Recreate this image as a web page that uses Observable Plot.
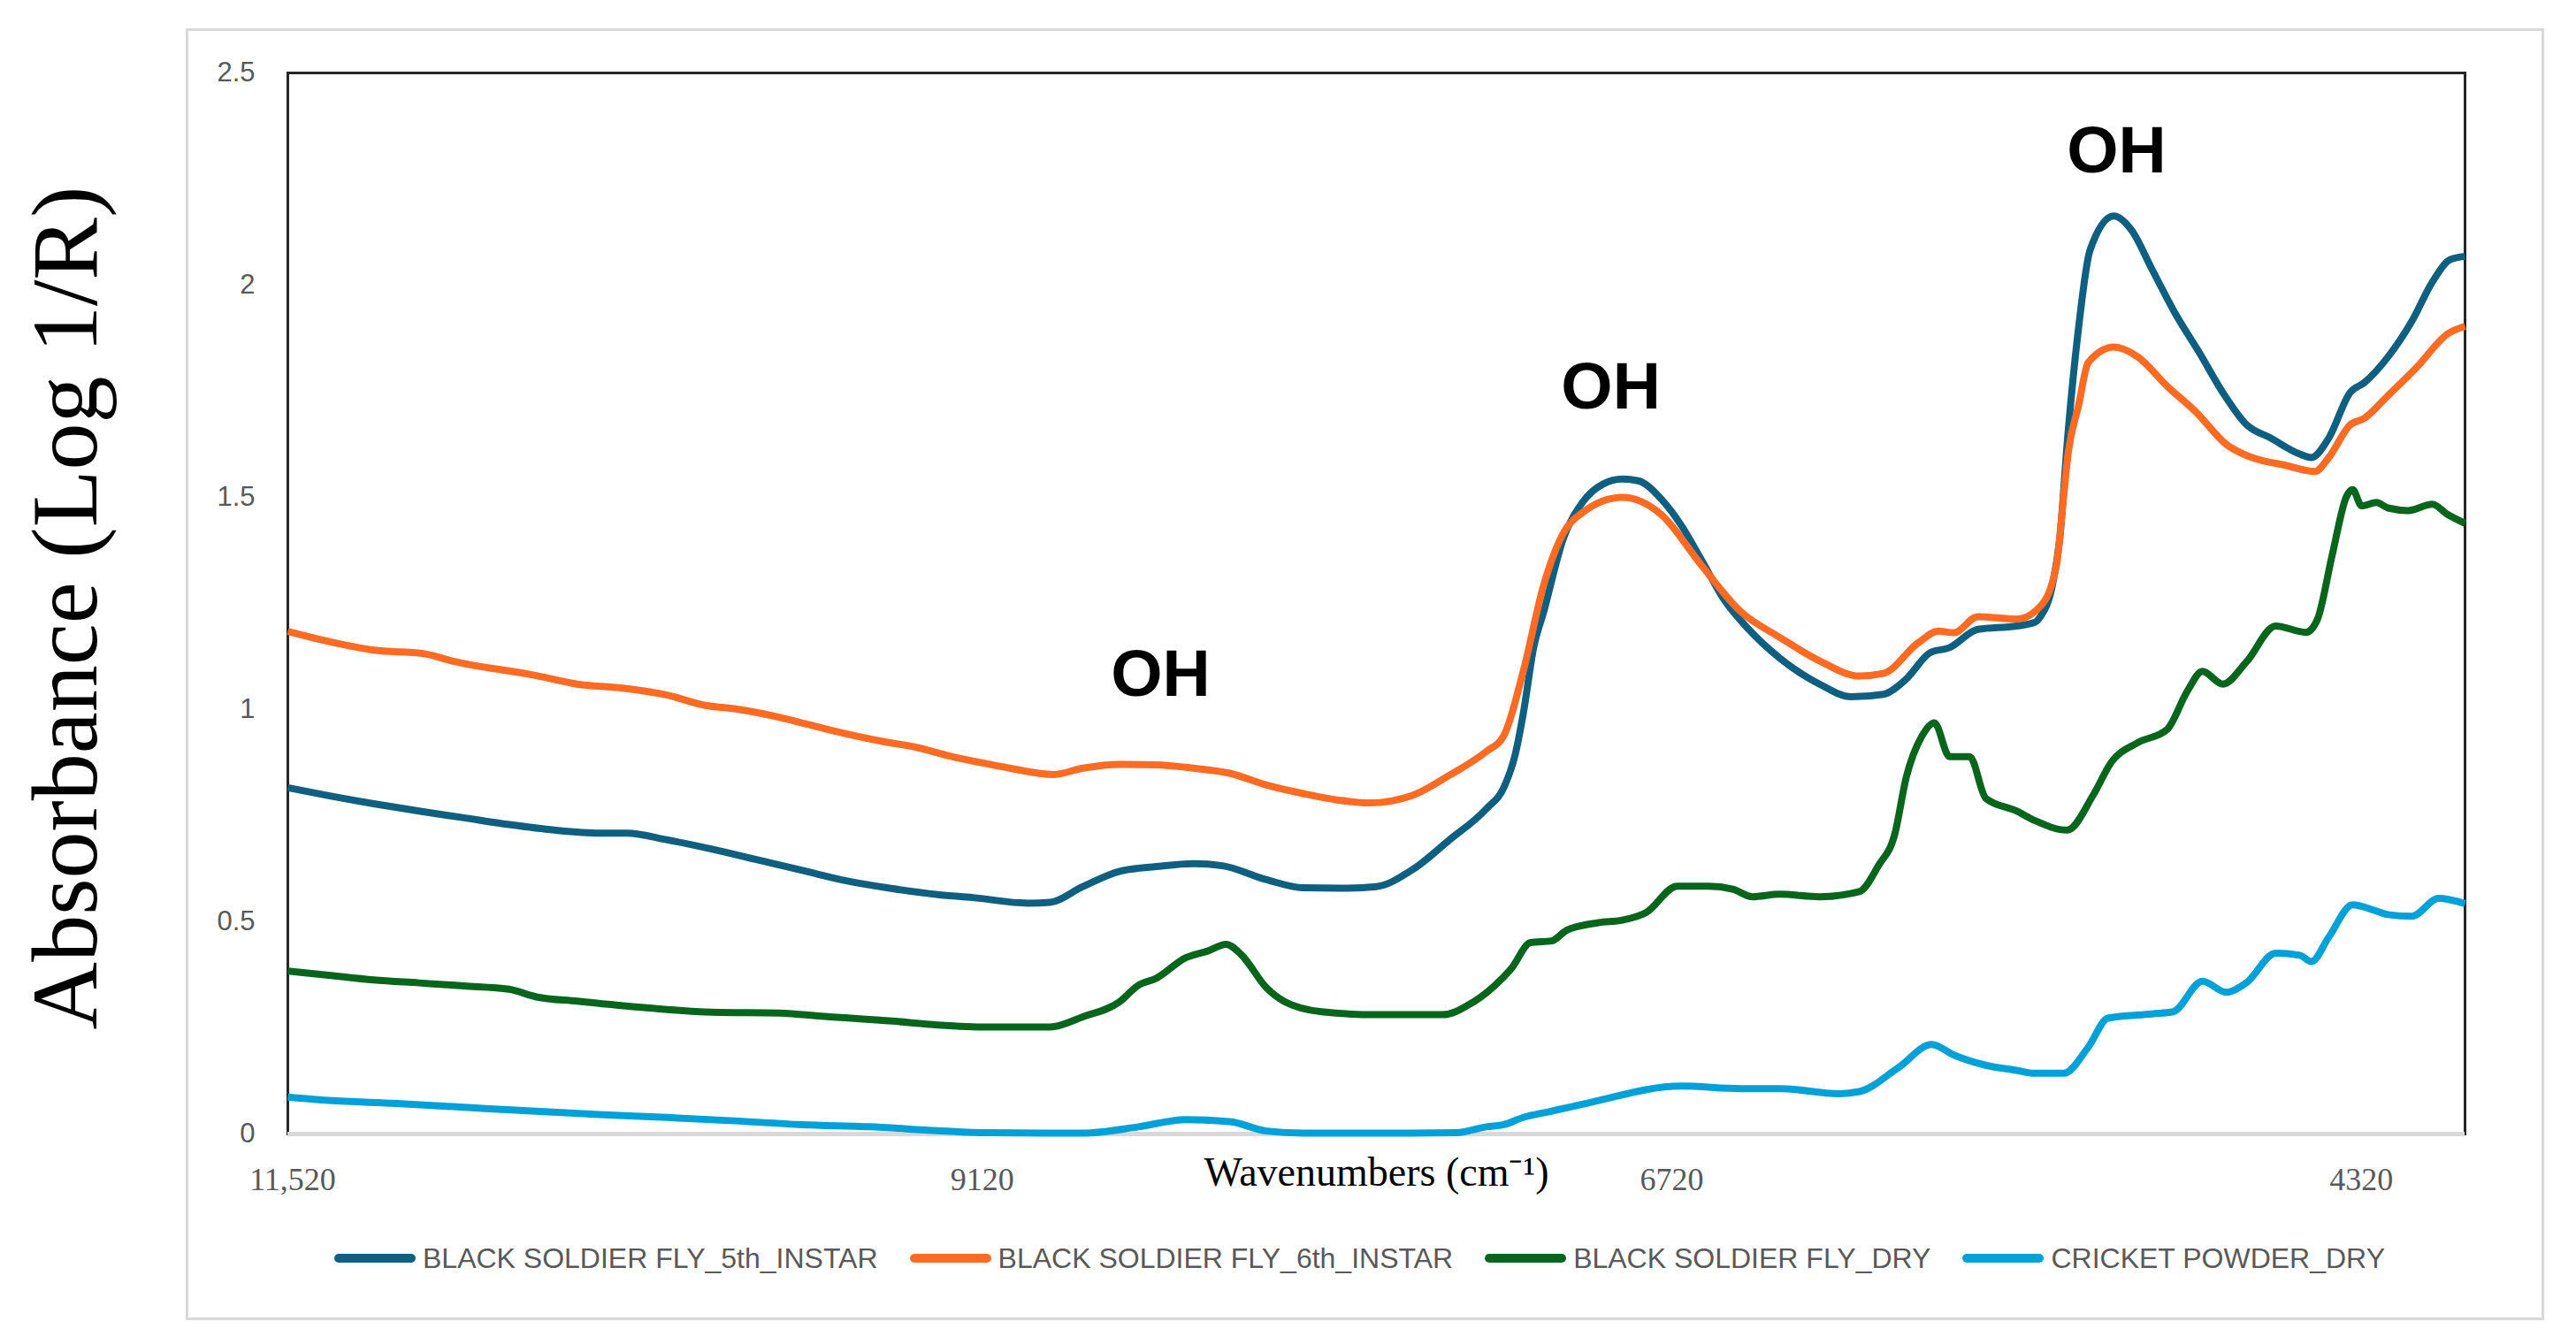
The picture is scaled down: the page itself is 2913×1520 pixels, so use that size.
<!DOCTYPE html>
<html>
<head>
<meta charset="utf-8">
<script src="https://cdn.jsdelivr.net/npm/d3@7"></script>
<script src="https://cdn.jsdelivr.net/npm/@observablehq/plot@0.6"></script>
<style>
  html, body { margin: 0; padding: 0; background: #ffffff; }
  #wrap { position: relative; width: 2913px; height: 1520px; overflow: hidden; background: #ffffff; }
  #box { position: absolute; left: 210px; top: 32px; width: 2661px; height: 1455px; border: 3px solid #d9d9d9; }
  #chart { position: absolute; left: 0; top: 0; }
  #legend { position: absolute; left: 378px; top: 1400px; height: 46px; display: flex; align-items: center;
            font-family: "Liberation Sans", Arial, sans-serif; font-size: 32px; color: #595959; white-space: nowrap; }
  .item { display: flex; align-items: center; margin-right: 36px; }
  .sw { display: inline-block; width: 92px; height: 10px; border-radius: 5px; margin-right: 8px; }
</style>
</head>
<body>
<div id="wrap">
  <div id="box"></div>
  <div id="chart"></div>
  <div id="legend"></div>
</div>
<script>
// ---- data (wavenumber cm-1, absorbance log 1/R) ----
const seriesNames = [
  "BLACK SOLDIER FLY_5th_INSTAR",
  "BLACK SOLDIER FLY_6th_INSTAR",
  "BLACK SOLDIER FLY_DRY",
  "CRICKET POWDER_DRY"
];
const seriesColors = ["#0f5f80", "#ff6b22", "#07661c", "#00a1d9"];

const bsf5th = [
  [11537,0.816],[11395,0.797],[11238,0.778],[11081,0.761],[10924,0.745],[10767,0.729],[10610,0.716],[10453,0.709],
  [10358,0.709],[10216,0.693],[10060,0.671],[9903,0.646],[9746,0.621],[9589,0.596],[9432,0.578],[9275,0.564],
  [9152,0.557],[8961,0.544],[8884,0.546],[8770,0.583],[8641,0.619],[8514,0.630],[8385,0.637],[8284,0.632],
  [8130,0.599],[8003,0.580],[7874,0.579],[7748,0.583],[7622,0.623],[7492,0.694],[7366,0.766],[7302,0.820],
  [7265,0.894],[7237,0.990],[7200,1.149],[7166,1.230],[7098,1.402],[7031,1.488],[6960,1.531],[6892,1.543],
  [6837,1.539],[6754,1.494],[6686,1.433],[6618,1.354],[6535,1.256],[6452,1.189],[6344,1.121],[6206,1.060],
  [6095,1.030],[5984,1.036],[5904,1.072],[5821,1.134],[5753,1.146],[5655,1.189],[5520,1.197],[5458,1.205],
  [5436,1.220],[5396,1.290],[5370,1.400],[5341,1.650],[5304,1.900],[5264,2.083],[5181,2.163],[5119,2.129],
  [5049,2.038],[4965,1.930],[4882,1.839],[4802,1.747],[4719,1.671],[4636,1.640],[4534,1.602],[4494,1.594],
  [4433,1.640],[4359,1.747],[4310,1.770],[4227,1.831],[4144,1.915],[4073,2.007],[4011,2.060],[3959,2.068]
];
const bsf6th = [
  [11537,1.184],[11359,1.155],[11238,1.140],[11066,1.132],[10968,1.115],[10672,1.080],[10530,1.060],[10377,1.051],
  [10216,1.034],[10084,1.010],[9983,1.002],[9789,0.976],[9669,0.955],[9459,0.924],[9355,0.912],[9229,0.890],
  [9102,0.872],[9025,0.862],[8871,0.847],[8770,0.862],[8641,0.871],[8514,0.870],[8385,0.862],[8259,0.850],
  [8130,0.822],[8003,0.802],[7874,0.786],[7773,0.780],[7622,0.798],[7492,0.846],[7366,0.901],[7305,0.938],
  [7237,1.090],[7166,1.293],[7098,1.415],[7031,1.464],[6892,1.500],[6825,1.490],[6754,1.458],[6618,1.341],
  [6480,1.231],[6344,1.170],[6206,1.115],[6067,1.079],[5984,1.085],[5861,1.158],[5793,1.185],[5738,1.181],
  [5655,1.219],[5520,1.213],[5436,1.244],[5381,1.341],[5356,1.503],[5341,1.600],[5304,1.717],[5270,1.818],
  [5181,1.854],[5098,1.831],[4996,1.762],[4895,1.701],[4790,1.625],[4688,1.591],[4587,1.576],[4482,1.561],
  [4433,1.594],[4359,1.671],[4310,1.686],[4227,1.740],[4125,1.808],[4020,1.885],[3959,1.903]
];
const bsfDry = [
  [11537,0.384],[11395,0.374],[11238,0.363],[11081,0.356],[10924,0.349],[10767,0.341],[10672,0.323],[10530,0.313],
  [10297,0.298],[10060,0.287],[9826,0.285],[9669,0.277],[9432,0.266],[9275,0.257],[9102,0.252],[8884,0.252],
  [8770,0.276],[8641,0.312],[8576,0.351],[8514,0.367],[8413,0.415],[8336,0.431],[8271,0.447],[8219,0.423],
  [8130,0.344],[8068,0.312],[7939,0.288],[7748,0.281],[7517,0.281],[7428,0.304],[7339,0.348],[7277,0.391],
  [7212,0.451],[7138,0.455],[7086,0.480],[6975,0.498],[6892,0.504],[6809,0.522],[6701,0.584],[6591,0.584],
  [6508,0.577],[6440,0.559],[6344,0.565],[6206,0.559],[6067,0.571],[6000,0.633],[5944,0.706],[5904,0.840],
  [5849,0.938],[5806,0.969],[5753,0.889],[5683,0.889],[5627,0.791],[5520,0.761],[5458,0.739],[5344,0.716],
  [5252,0.800],[5190,0.876],[5098,0.922],[4996,0.953],[4925,1.044],[4873,1.090],[4802,1.060],[4719,1.113],
  [4618,1.197],[4513,1.182],[4473,1.212],[4421,1.365],[4371,1.503],[4350,1.518],[4319,1.480],[4267,1.488],
  [4227,1.475],[4156,1.469],[4073,1.484],[4020,1.460],[3959,1.439]
];
const cricketDry = [
  [11537,0.087],[11395,0.079],[11158,0.072],[10924,0.063],[10687,0.054],[10453,0.046],[10216,0.039],[9983,0.031],
  [9746,0.022],[9512,0.017],[9275,0.008],[9102,0.003],[8770,0.002],[8576,0.017],[8413,0.034],[8259,0.029],
  [8130,0.007],[8003,0.002],[7622,0.002],[7468,0.003],[7366,0.017],[7305,0.022],[7237,0.039],[7151,0.052],
  [7031,0.070],[6686,0.113],[6480,0.107],[6344,0.107],[6138,0.095],[6067,0.100],[5932,0.156],[5815,0.211],
  [5738,0.186],[5627,0.162],[5520,0.150],[5458,0.143],[5356,0.143],[5270,0.205],[5202,0.273],[5049,0.283],
  [4975,0.288],[4873,0.360],[4790,0.334],[4719,0.357],[4618,0.426],[4534,0.421],[4494,0.406],[4433,0.464],
  [4350,0.540],[4279,0.528],[4227,0.517],[4144,0.513],[4051,0.555],[3959,0.543]
];

const xDomain = [11537, 3959];
const yDomain = [0, 2.5];
const xTicks = [11520, 9120, 6720, 4320];
const xTickLabels = ["11,520", "9120", "6720", "4320"];
const yTicks = [0, 0.5, 1, 1.5, 2, 2.5];

const ohLabels = [
  {wn: 8499, abs: 1.083, label: "OH"},
  {wn: 6932, abs: 1.760, label: "OH"},
  {wn: 5172, abs: 2.315, label: "OH"}
];
const xTitle = "Wavenumbers (cm\u207B\u00B9)";
const yTitle = "Absorbance (Log 1/R)";

// ---- build table ----
const seriesData = [bsf5th, bsf6th, bsfDry, cricketDry];
const rows = seriesData.flatMap((arr, i) => arr.map(([wn, abs]) => ({series: seriesNames[i], wn, abs})));

const chart = Plot.plot({
  width: 2913,
  height: 1400,
  marginLeft: 325,
  marginRight: 126,
  marginTop: 82,
  marginBottom: 118,
  style: {background: "transparent", overflow: "visible"},
  x: {domain: xDomain, label: null},
  y: {domain: yDomain, label: null},
  color: {domain: seriesNames, range: seriesColors},
  marks: [
    Plot.frame({stroke: "#262626", strokeWidth: 3}),
    Plot.ruleY([0], {stroke: "#d9d9d9", strokeWidth: 5}),
    Plot.axisY({ticks: yTicks, tickSize: 0, tickPadding: 37, tickFormat: d => String(d),
      fontSize: 31, fontFamily: "'Liberation Sans Narrow', 'Liberation Sans', sans-serif", color: "#595959", label: null}),
    Plot.axisX({ticks: xTicks, tickSize: 0, tickPadding: 38, tickFormat: d => xTickLabels[xTicks.indexOf(d)],
      fontSize: 36, fontFamily: "'Liberation Serif', serif", color: "#595959", label: null}),
    Plot.line(rows, {x: "wn", y: "abs", z: "series", stroke: "series", strokeWidth: 8,
      curve: "monotone-x", strokeLinejoin: "round", strokeLinecap: "butt"}),
    Plot.text(ohLabels, {x: "wn", y: "abs", text: "label", fontSize: 75, fontWeight: "bold",
      fontFamily: "'Liberation Sans', Arial, sans-serif", fill: "#000000"}),
    Plot.text([xTitle], {frameAnchor: "bottom", dy: 58, fontSize: 46, fill: "#000000",
      fontFamily: "'Liberation Serif', serif"}),
    Plot.text([yTitle], {frameAnchor: "left", textAnchor: "middle", dx: -250, dy: 5, rotate: -90, fontSize: 106,
      fill: "#000000", fontFamily: "'Liberation Serif', serif"})
  ]
});
document.getElementById("chart").appendChild(chart);

// ---- legend ----
const legend = document.getElementById("legend");
seriesNames.forEach((name, i) => {
  const item = document.createElement("div");
  item.className = "item";
  const sw = document.createElement("span");
  sw.className = "sw";
  sw.style.background = seriesColors[i];
  const tx = document.createElement("span");
  tx.textContent = name;
  item.appendChild(sw);
  item.appendChild(tx);
  legend.appendChild(item);
});
</script>
</body>
</html>
